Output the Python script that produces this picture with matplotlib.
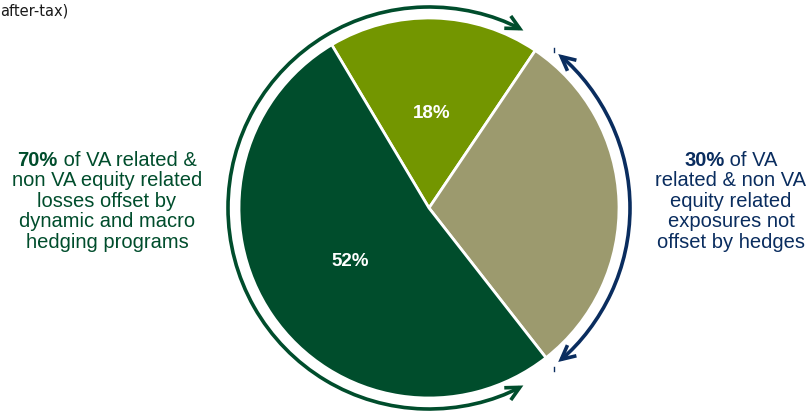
import matplotlib
matplotlib.use("Agg")
import matplotlib.pyplot as plt
import numpy as np
from matplotlib.patches import FancyArrowPatch
from matplotlib.path import Path
from matplotlib.transforms import Affine2D

# Hedged vs unhedged split of VA / non VA equity exposure
slice_labels = ["Macro hedge", "Unhedged", "Dynamic hedge"]
slice_values = [18, 30, 52]
shown_pct = [True, False, True]

hedged_pct = 70
unhedged_pct = 30

left_lines = [" of VA related &", "non VA equity related", "losses offset by",
              "dynamic and macro", "hedging programs"]
right_lines = [" of VA", "related & non VA", "equity related",
               "exposures not", "offset by hedges"]

colors = {
    "light_green": "#739600",
    "khaki": "#9C9A6E",
    "dark_green": "#004D2C",
    "navy": "#0A2D5F",
    "text": "#1a1a1a",
}
slice_colors = [colors["light_green"], colors["khaki"], colors["dark_green"]]

W, H = 809, 412
fig = plt.figure(figsize=(W / 100, H / 100), dpi=100)
ax = fig.add_axes([0, 0, 1, 1])

cx, cy, r = 429, H - 208, 190

wedges, _ = ax.pie(slice_values, colors=slice_colors, startangle=120.8,
                   counterclock=False, center=(cx, cy), radius=r,
                   wedgeprops=dict(edgecolor="white", linewidth=2))

# percentage labels inside the two hedged slices
for w, v, show in zip(wedges, slice_values, shown_pct):
    if not show:
        continue
    mid = np.deg2rad((w.theta1 + w.theta2) / 2)
    ax.text(cx + 0.5 * r * np.cos(mid), cy + 0.5 * r * np.sin(mid), f"{v}%",
            ha="center", va="center", color="white", fontsize=13.5,
            fontweight="bold", family="Liberation Sans")


def arc_arrow(t1, t2, radius, color):
    path = Path.arc(t1, t2).transformed(Affine2D().scale(radius).translate(cx, cy))
    arr = FancyArrowPatch(path=path, arrowstyle="<->,head_length=10,head_width=5",
                          color=color, linewidth=2.6, transform=ax.transData,
                          joinstyle="miter", capstyle="butt")
    ax.add_patch(arr)


arc_arrow(62, 298, 201, colors["dark_green"])
arc_arrow(-50, 50, 201, colors["navy"])

# small separators at the ends of the blue bracket
for y0 in (H - 48, H - 367):
    ax.plot([554, 554], [y0, y0 - 4], color=colors["navy"], lw=1)

FS = 14.5
LINE = 20.5
fig.canvas.draw()
rend = fig.canvas.get_renderer()


def label_block(x, y, pct, lines, color):
    # first line: bold percentage followed by regular text, centred together
    t1 = ax.text(0, 0, f"{pct}%", fontweight="bold", color=color,
                 family="Liberation Sans", fontsize=FS, va="center")
    t2 = ax.text(0, 0, lines[0], color=color, family="Liberation Sans",
                 fontsize=FS, va="center")
    w1 = t1.get_window_extent(rend).width
    w2 = t2.get_window_extent(rend).width
    start = x - (w1 + w2) / 2
    t1.set_position((start, y))
    t2.set_position((start + w1, y))
    for i, line in enumerate(lines[1:], start=1):
        ax.text(x, y - i * LINE, line, color=color, family="Liberation Sans",
                fontsize=FS, ha="center", va="center")


label_block(107, H - 160, hedged_pct, left_lines, colors["dark_green"])
label_block(731, H - 160, unhedged_pct, right_lines, colors["navy"])

ax.text(0, H - 11, "after-tax)", ha="left", va="center", fontsize=10.5,
        color=colors["text"], family="DejaVu Sans")

ax.set_xlim(0, W)
ax.set_ylim(0, H)
ax.set_aspect("equal")
ax.axis("off")

fig.savefig("out.png", dpi=100, facecolor="white")
